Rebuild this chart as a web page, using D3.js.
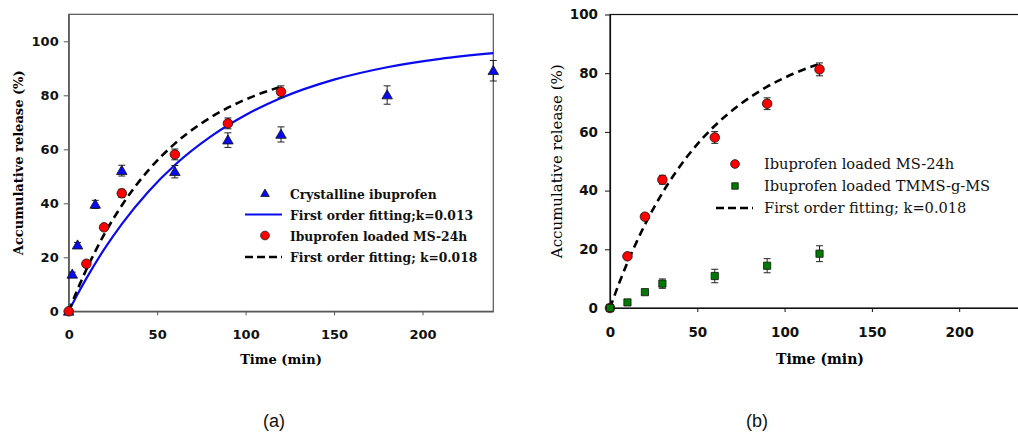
<!DOCTYPE html>
<html>
<head>
<meta charset="utf-8">
<script src="https://cdn.jsdelivr.net/npm/d3@7"></script>
<style>
  html, body { margin: 0; padding: 0; background: #fff; }
  svg { display: block; }
</style>
</head>
<body>
<svg id="chart" width="1018" height="434"></svg>
<script>
// ---------- data ----------
const xTicks = [0, 50, 100, 150, 200];
const yTicksA = [0, 20, 40, 60, 80, 100];
const yTicksB = [0, 20, 40, 60, 80, 100];

const timesCryst = [0, 2, 5, 15, 30, 60, 90, 120, 180, 240];
const crystalline = [0, 13.7, 24.5, 39.6, 52.1, 51.7, 63.4, 65.5, 80.1, 89.1];
const crystallineErr = [0, 0.8, 1.0, 1.5, 2.0, 2.3, 2.7, 2.8, 3.4, 3.8];

const timesMS = [0, 10, 20, 30, 60, 90, 120];
const ms24h = [0, 17.6, 31.1, 43.7, 58.1, 69.6, 81.3];
const ms24hErr = [0.5, 1.0, 1.0, 1.5, 2.0, 2.0, 2.2];
const tmms = [0, 1.9, 5.4, 8.3, 10.9, 14.4, 18.5];
const tmmsErr = [0.3, 0.5, 0.8, 1.6, 2.3, 2.4, 2.7];

// first-order fitted curves, sampled (k=0.013 and k=0.018)
const fitTimes013 = [0, 5, 10, 20, 30, 45, 60, 80, 100, 120, 150, 180, 210, 240];
const fit013 = [0, 6.3, 12.2, 22.9, 32.3, 44.3, 54.2, 64.6, 72.7, 79.0, 85.8, 90.4, 93.5, 95.6];
const fitTimes018 = [0, 5, 10, 15, 20, 30, 45, 60, 75, 90, 105, 120];
const fit018 = [0, 8.1, 15.5, 22.2, 28.4, 39.2, 52.2, 62.1, 69.6, 75.4, 79.8, 83.2];

const legendA = ["Crystalline ibuprofen", "First order fitting;k=0.013", "Ibuprofen loaded MS-24h", "First order fitting; k=0.018"];
const legendB = ["Ibuprofen loaded MS-24h", "Ibuprofen loaded TMMS-g-MS", "First order fitting; k=0.018"];

// ---------- drawing ----------
const svg = d3.select("#chart");
svg.append("rect").attr("width", 1018).attr("height", 434).attr("fill", "#fff");

const BLUE = "#0a0af0", RED = "#ff0000", GREEN = "#007a00";
const tickFont = "'DejaVu Sans', sans-serif";
const serif = "'DejaVu Serif', serif";

function pts(ts, vs) { return ts.map((t, i) => [t, vs[i]]); }

function drawPanel(opt) {
  const g = svg.append("g");
  const x = d3.scaleLinear().domain([0, 240]).range([opt.x0, opt.x1]);
  const y = d3.scaleLinear().domain([0, opt.ymax]).range([opt.y0, opt.y1]);

  g.append("rect").attr("x", opt.x0).attr("y", opt.y1)
    .attr("width", opt.x1 - opt.x0).attr("height", opt.y0 - opt.y1)
    .attr("fill", "none").attr("stroke", opt.frame).attr("stroke-width", 1.2);

  const xa = g.append("g").attr("transform", `translate(0,${opt.y0})`)
    .call(d3.axisBottom(x).tickValues(xTicks).tickSize(4).tickPadding(opt.xPad).tickSizeOuter(0));
  const ya = g.append("g").attr("transform", `translate(${opt.x0},0)`)
    .call(d3.axisLeft(y).tickValues(opt.yTicks).tickSize(5).tickPadding(opt.yPad).tickSizeOuter(0));
  [xa, ya].forEach(a => {
    a.select(".domain").attr("stroke", opt.frame).attr("stroke-width", 1.2);
    a.selectAll(".tick line").attr("stroke", opt.frame);
    a.selectAll("text").attr("font-family", tickFont).attr("font-weight", "bold")
      .attr("font-size", opt.tickSize).attr("fill", "#111");
  });

  const line = d3.line().x(d => x(d[0])).y(d => y(d[1])).curve(d3.curveMonotoneX);
  opt.curves.forEach(c => {
    g.append("path").attr("d", line(pts(c.t, c.v)))
      .attr("fill", "none").attr("stroke", c.color).attr("stroke-width", c.width)
      .attr("stroke-dasharray", c.dash || null);
  });

  opt.series.forEach(s => {
    const data = s.t.map((t, i) => ({ t, v: s.v[i], e: s.e[i] }));
    const eg = g.append("g");
    data.forEach(d => {
      if (d.e > 0.6) {
        const xx = x(d.t), ya_ = y(d.v + d.e), yb = y(d.v - d.e);
        eg.append("line").attr("x1", xx).attr("x2", xx).attr("y1", ya_).attr("y2", yb)
          .attr("stroke", "#222").attr("stroke-width", 1);
        [ya_, yb].forEach(yy => eg.append("line").attr("x1", xx - 3.5).attr("x2", xx + 3.5)
          .attr("y1", yy).attr("y2", yy).attr("stroke", "#222").attr("stroke-width", 1));
      }
    });
    const sym = d3.symbol().type(s.symbol).size(s.size);
    g.append("g").selectAll("path").data(data).join("path")
      .attr("d", sym)
      .attr("transform", d => `translate(${x(d.t)},${y(d.v) + (s.symbol === d3.symbolTriangle ? 0.8 : 0)})`)
      .attr("fill", s.color).attr("stroke", "#111").attr("stroke-width", 0.8);
  });

  g.append("text").attr("x", opt.xLabelX).attr("y", 364)
    .attr("text-anchor", "middle").attr("font-family", serif).attr("font-weight", "bold")
    .attr("font-size", opt.xLabelSize).text("Time (min)");
  g.append("text").attr("transform", `translate(${opt.yLabelX},${(opt.y0 + opt.y1) / 2}) rotate(-90)`)
    .attr("text-anchor", "middle").attr("font-family", serif).attr("font-weight", opt.yLabelWeight)
    .attr("font-size", opt.yLabelSize).text("Accumulative release (%)");

  const lg = g.append("g");
  opt.legend.forEach((it, i) => {
    const yy = opt.legY[i];
    if (it.kind === "line") {
      lg.append("line").attr("x1", opt.legLine[0]).attr("x2", opt.legLine[1]).attr("y1", yy).attr("y2", yy)
        .attr("stroke", it.color).attr("stroke-width", it.width).attr("stroke-dasharray", it.dash || null);
    } else {
      lg.append("path").attr("d", d3.symbol().type(it.symbol).size(it.size)())
        .attr("transform", `translate(${opt.legSym},${yy})`)
        .attr("fill", it.color).attr("stroke", "#111").attr("stroke-width", 0.8);
    }
    lg.append("text").attr("x", opt.legText).attr("y", yy + 5)
      .attr("font-family", serif).attr("font-weight", opt.legWeight)
      .attr("font-size", opt.legSize).attr("fill", "#111").text(it.label);
  });
}

// Panel (a)
drawPanel({
  x0: 68.7, x1: 493.3, y0: 311.3, y1: 14.3, ymax: 110, yTicks: yTicksA,
  frame: "#555", tickSize: "13px", yPad: 5, xPad: 14,
  curves: [
    { t: fitTimes013, v: fit013, color: BLUE, width: 2.2 },
    { t: fitTimes018, v: fit018, color: "#000", width: 2.6, dash: "8,5" }
  ],
  series: [
    { t: timesCryst, v: crystalline, e: crystallineErr, symbol: d3.symbolTriangle, size: 48, color: BLUE },
    { t: timesMS, v: ms24h, e: ms24hErr, symbol: d3.symbolCircle, size: 72, color: RED }
  ],
  xLabelX: 281, xLabelSize: "13px", yLabelX: 23, yLabelSize: "13px", yLabelWeight: "bold",
  legend: [
    { kind: "sym", symbol: d3.symbolTriangle, size: 32, color: BLUE, label: legendA[0] },
    { kind: "line", color: BLUE, width: 2.2, label: legendA[1] },
    { kind: "sym", symbol: d3.symbolCircle, size: 60, color: RED, label: legendA[2] },
    { kind: "line", color: "#000", width: 2.6, dash: "8,4", label: legendA[3] }
  ],
  legY: [194, 214.5, 235.5, 257], legSym: 265, legLine: [245, 282], legText: 290,
  legWeight: "bold", legSize: "12.3px"
});

// Panel (b)
drawPanel({
  x0: 610, x1: 610 + 240 * 1.746, y0: 308, y1: 14.5, ymax: 100, yTicks: yTicksB,
  frame: "#111", tickSize: "13.5px", yPad: 7, xPad: 15,
  curves: [
    { t: fitTimes018, v: fit018, color: "#000", width: 2.6, dash: "8,5" }
  ],
  series: [
    { t: timesMS, v: ms24h, e: ms24hErr, symbol: d3.symbolCircle, size: 72, color: RED },
    { t: timesMS, v: tmms, e: tmmsErr, symbol: d3.symbolSquare, size: 52, color: GREEN }
  ],
  xLabelX: 820, xLabelSize: "14px", yLabelX: 562, yLabelSize: "15px", yLabelWeight: "normal",
  legend: [
    { kind: "sym", symbol: d3.symbolCircle, size: 60, color: RED, label: legendB[0] },
    { kind: "sym", symbol: d3.symbolSquare, size: 42, color: GREEN, label: legendB[1] },
    { kind: "line", color: "#000", width: 2.6, dash: "8,4", label: legendB[2] }
  ],
  legY: [164, 186, 208], legSym: 735, legLine: [716, 753], legText: 764,
  legWeight: "normal", legSize: "14.6px"
});

[["(a)", 274], ["(b)", 757]].forEach(([t, cx]) => {
  svg.append("text").attr("x", cx).attr("y", 427).attr("text-anchor", "middle")
    .attr("font-family", "'Liberation Sans', Arial, sans-serif").attr("font-size", "18px")
    .attr("fill", "#111").text(t);
});
</script>
</body>
</html>
